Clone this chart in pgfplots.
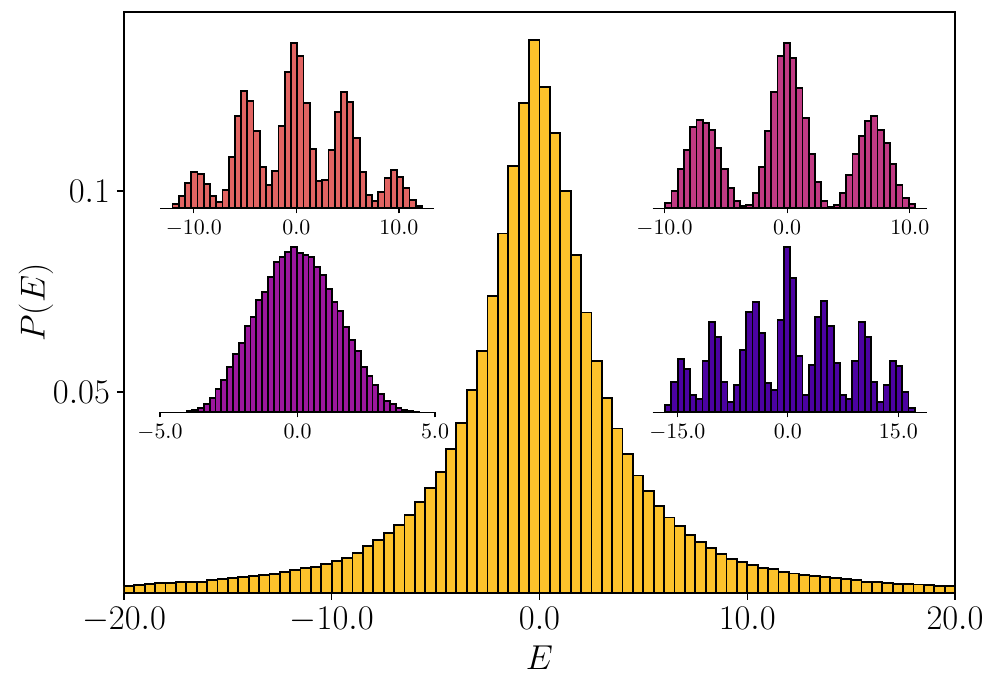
\documentclass[border=0pt]{standalone}
\usepackage{pgfplots}
\usepackage{pgfplotstable}
\pgfplotsset{compat=1.18}

\definecolor{cmain}{HTML}{FCC22B}
\definecolor{ctl}{HTML}{E16462}
\definecolor{ctr}{HTML}{C03A83}
\definecolor{cbl}{HTML}{9C179E}
\definecolor{cbr}{HTML}{4C02A1}

% bin left edge, height (last row closes the final bin)
\pgfplotstableread{
x y
-20.0 0.00182
-19.5 0.00199
-19.0 0.00231
-18.5 0.00249
-18.0 0.00241
-17.5 0.00266
-17.0 0.00281
-16.5 0.00281
-16.0 0.00316
-15.5 0.00356
-15.0 0.00381
-14.5 0.00398
-14.0 0.00430
-13.5 0.00455
-13.0 0.00480
-12.5 0.00515
-12.0 0.00565
-11.5 0.00614
-11.0 0.00647
-10.5 0.00729
-10.0 0.00789
-9.5 0.00871
-9.0 0.01002
-8.5 0.01162
-8.0 0.01311
-7.5 0.01493
-7.0 0.01699
-6.5 0.01933
-6.0 0.02256
-5.5 0.02604
-5.0 0.03002
-4.5 0.03582
-4.0 0.04229
-3.5 0.05042
-3.0 0.06012
-2.5 0.07388
-2.0 0.08943
-1.5 0.10629
-1.0 0.12182
-0.5 0.13756
0.0 0.12575
0.5 0.11450
1.0 0.09993
1.5 0.08408
2.0 0.06978
2.5 0.05779
3.0 0.04851
3.5 0.04092
4.0 0.03458
4.5 0.02923
5.0 0.02530
5.5 0.02159
6.0 0.01878
6.5 0.01662
7.0 0.01448
7.5 0.01274
8.0 0.01119
8.5 0.00960
9.0 0.00851
9.5 0.00771
10.0 0.00701
10.5 0.00627
11.0 0.00597
11.5 0.00522
12.0 0.00485
12.5 0.00455
13.0 0.00423
13.5 0.00398
14.0 0.00373
14.5 0.00353
15.0 0.00323
15.5 0.00281
16.0 0.00269
16.5 0.00254
17.0 0.00231
17.5 0.00214
18.0 0.00211
18.5 0.00197
19.0 0.00169
19.5 0.00169
20.0 0
}\maindata

\pgfplotstableread{
x y
-12.070 13
-11.462 36
-10.854 77
-10.246 109
-9.638 103
-9.030 72
-8.422 37
-7.814 20
-7.206 54
-6.598 153
-5.990 277
-5.382 352
-4.774 322
-4.166 233
-3.558 123
-2.950 71
-2.342 112
-1.734 247
-1.126 410
-0.518 496
0.090 458
0.698 317
1.306 178
1.914 82
2.522 84
3.130 174
3.738 289
4.346 348
4.954 319
5.562 212
6.170 108
6.778 39
7.386 23
7.994 48
8.602 92
9.210 114
9.818 93
10.426 60
11.034 26
11.642 6
12.250 0
}\tldata

\pgfplotstableread{
x y
-9.940 15
-9.431 53
-8.922 117
-8.413 175
-7.904 243
-7.395 266
-6.886 255
-6.377 236
-5.868 182
-5.359 118
-4.850 61
-4.341 23
-3.832 8
-3.323 11
-2.814 47
-2.305 124
-1.796 231
-1.287 348
-0.778 458
-0.269 496
0.240 452
0.749 360
1.258 272
1.767 163
2.276 80
2.785 23
3.294 4
3.803 10
4.312 46
4.821 100
5.330 163
5.839 218
6.348 263
6.857 277
7.366 236
7.875 196
8.384 133
8.893 71
9.402 32
9.911 13
10.420 0
}\trdata

\pgfplotstableread{
x y
-4.036 3
-3.825 6
-3.613 14
-3.402 25
-3.191 44
-2.980 71
-2.768 98
-2.557 137
-2.346 174
-2.134 209
-1.923 259
-1.712 286
-1.500 337
-1.289 361
-1.078 406
-0.867 451
-0.655 466
-0.444 482
-0.233 496
-0.021 477
0.190 473
0.401 466
0.613 437
0.824 413
1.035 370
1.246 331
1.458 305
1.669 256
1.880 217
2.092 184
2.303 136
2.514 110
2.726 81
2.937 55
3.148 34
3.359 25
3.571 14
3.782 8
3.993 4
4.205 2
4.416 0
}\bldata

\pgfplotstableread{
x y
-16.660 21
-15.813 92
-14.966 159
-14.119 129
-13.272 52
-12.425 41
-11.578 154
-10.731 272
-9.884 227
-9.037 92
-8.190 32
-7.343 83
-6.496 186
-5.649 301
-4.802 332
-3.955 238
-3.108 89
-2.261 68
-1.414 276
-0.567 496
0.280 402
1.127 168
1.974 53
2.821 143
3.668 286
4.515 334
5.362 260
6.209 149
7.056 53
7.903 41
8.750 154
9.597 272
10.444 227
11.291 92
12.138 31
12.985 82
13.832 154
14.679 139
15.526 62
16.373 12
17.220 0
}\brdata

\pgfplotsset{
  inset/.style={
    anchor=south west, scale only axis,
    width=137.3pt, height=86.8pt,
    ymin=0, ymax=520.8,
    axis x line=bottom, axis y line=none,
    x axis line style={-, line width=0.6pt},
    xtick align=outside, major tick length=2.5pt,
    every tick/.style={black, line width=0.6pt},
    xticklabel style={font=\fontsize{10.8}{12}\selectfont,
      /pgf/number format/.cd, fixed, fixed zerofill, precision=1},
  },
  hfill/.style={ybar interval, draw=none, fill=#1},
  hedge/.style={ybar interval, draw=black, fill=none, line width=0.9pt, line join=miter},
}

\begin{document}
\begin{tikzpicture}
\useasboundingbox (-62pt,-47.5pt) rectangle (436.5pt,296.5pt);

% main histogram
\begin{axis}[
  at={(0,0)}, anchor=south west, scale only axis,
  width=415.5pt, height=290.5pt,
  xmin=-20, xmax=20, ymin=0, ymax=0.1445,
  xtick={-20,-10,0,10,20},
  ytick={0.05,0.1}, yticklabels={$0.05$,$0.1$},
  tick pos=left, tick align=outside, major tick length=3.5pt,
  axis line style={line width=0.6pt},
  every tick/.style={black, line width=0.6pt},
  ticklabel style={font=\fontsize{16.5}{18}\selectfont},
  xticklabel style={/pgf/number format/.cd, fixed, fixed zerofill, precision=1},
  label style={font=\fontsize{17}{20}\selectfont},
  xlabel={$E$}, ylabel={$P(E)$},
  ylabel style={yshift=-7pt},
]
\addplot[hfill=cmain] table {\maindata};
\addplot[hedge] table {\maindata};
\end{axis}

% top left inset
\begin{axis}[inset, at={(18pt,192.35pt)}, width=137.2pt,
  xmin=-13.29, xmax=13.46, xtick={-10,0,10}]
\addplot[hfill=ctl] table {\tldata};
\addplot[hedge] table {\tldata};
\end{axis}

% top right inset
\begin{axis}[inset, at={(264.35pt,192.35pt)},
  xmin=-10.96, xmax=11.43, xtick={-10,0,10}]
\addplot[hfill=ctr] table {\trdata};
\addplot[hedge] table {\trdata};
\end{axis}

% bottom left inset
\begin{axis}[inset, at={(18pt,90.35pt)}, width=137.5pt,
  xmin=-5, xmax=5, xtick={-5,0,5}]
\addplot[hfill=cbl] table {\bldata};
\addplot[hedge] table {\bldata};
\end{axis}

% bottom right inset
\begin{axis}[inset, at={(264.35pt,90.35pt)},
  xmin=-18.35, xmax=18.93, xtick={-15,0,15}]
\addplot[hfill=cbr] table {\brdata};
\addplot[hedge] table {\brdata};
\end{axis}
\end{tikzpicture}
\end{document}
